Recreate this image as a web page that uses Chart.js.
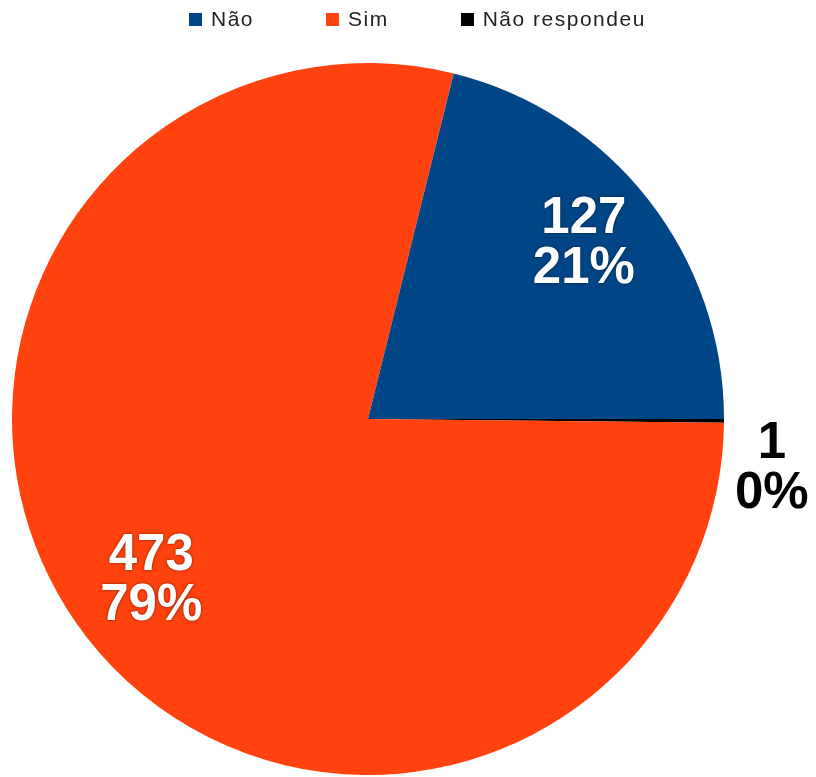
<!DOCTYPE html>
<html>
<head>
<meta charset="utf-8">
<script src="https://cdn.jsdelivr.net/npm/chart.js@4.4.1/dist/chart.umd.min.js"></script>
<style>
html, body { margin: 0; padding: 0; background: #fff; }
#wrap { position: relative; width: 816px; height: 777px; overflow: hidden; }
#pie { display: block; }
#legend {
    position: absolute; left: 189px; top: 9px; z-index: 2;
    display: flex; align-items: center;
    font-family: "Liberation Sans", Arial, sans-serif; font-size: 21px;
    letter-spacing: 1.5px; line-height: 20px; color: #222;
}
#legend .item { display: flex; align-items: center; margin-right: 72px; }
#legend .box { width: 13px; height: 13px; margin-right: 9px; }
</style>
</head>
<body>
<div id="wrap">
    <div id="legend"></div>
    <canvas id="pie" width="816" height="777"></canvas>
</div>
<script>
// legend order (as in the picture)
var categories = ['Não', 'Sim', 'Não respondeu'];
var counts = [127, 473, 1];
var colors = ['#004586', '#ff420e', '#000000'];

// html legend
var legend = document.getElementById('legend');
categories.forEach(function (name, i) {
    var item = document.createElement('div');
    item.className = 'item';
    var box = document.createElement('span');
    box.className = 'box';
    box.style.background = colors[i];
    var txt = document.createElement('span');
    txt.textContent = name;
    item.appendChild(box);
    item.appendChild(txt);
    legend.appendChild(item);
});

// value + percent on every slice, small slices go outside
var sliceLabels = {
    id: 'sliceLabels',
    afterDatasetsDraw: function (chart) {
        var ctx = chart.ctx;
        var meta = chart.getDatasetMeta(0);
        var data = chart.data.datasets[0].data;
        var total = data.reduce(function (a, b) { return a + b; }, 0);

        ctx.save();
        ctx.font = 'bold 51px "Liberation Sans", Arial, sans-serif';
        ctx.textAlign = 'center';
        ctx.textBaseline = 'middle';

        meta.data.forEach(function (arc, i) {
            var p = arc.getProps(['x', 'y', 'startAngle', 'endAngle', 'outerRadius'], true);
            var mid = (p.startAngle + p.endAngle) / 2;
            var share = data[i] / total;
            var lines = [String(data[i]), Math.round(share * 100) + '%'];

            if (share > 0.05) {
                var x = p.x + Math.cos(mid) * p.outerRadius * 0.77;
                var y = p.y + Math.sin(mid) * p.outerRadius * 0.77;
                ctx.shadowColor = 'rgba(0,0,0,0.55)';
                ctx.shadowBlur = 3;
                ctx.fillStyle = '#ffffff';
                ctx.fillText(lines[0], x, y - 31);
                ctx.fillText(lines[1], x, y + 19);
            } else {
                var w = Math.max(ctx.measureText(lines[0]).width, ctx.measureText(lines[1]).width);
                var ax = p.x + Math.cos(mid) * p.outerRadius;
                var ay = p.y + Math.sin(mid) * p.outerRadius;
                ctx.shadowBlur = 0;
                ctx.fillStyle = '#000000';
                ctx.fillText(lines[0], ax + 11 + w / 2, ay + 23);
                ctx.fillText(lines[1], ax + 11 + w / 2, ay + 73);
            }
        });
        ctx.restore();
    }
};

// chart.js goes clockwise, the picture goes counter-clockwise from 3 o'clock
var pie = new Chart(document.getElementById('pie').getContext('2d'), {
    type: 'pie',
    data: {
        labels: categories.slice().reverse(),
        datasets: [{
            data: counts.slice().reverse(),
            backgroundColor: colors.slice().reverse(),
            borderWidth: 0
        }]
    },
    options: {
        responsive: false,
        animation: false,
        rotation: 90,
        layout: {
            padding: { left: 12, right: 92, top: 63, bottom: 2 }
        },
        plugins: {
            legend: { display: false },
            tooltip: { enabled: false }
        }
    },
    plugins: [sliceLabels]
});
</script>
</body>
</html>
